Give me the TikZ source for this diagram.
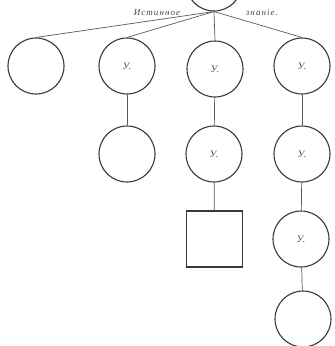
\documentclass[tikz,border=0pt]{standalone}
\usepackage{fontspec}
\setmainfont{Liberation Serif}
\begin{document}
\begin{tikzpicture}[x=1pt,y=-1pt,
  circ/.style={circle,draw=black!78,line width=1.1pt,minimum size=56pt,inner sep=0pt,font=\itshape\normalsize,text=black!70},
  sq/.style={rectangle,draw=black!78,line width=1.1pt,minimum size=56pt,inner sep=0pt},
  conn/.style={draw=black!65,line width=0.7pt},
  lab/.style={font=\itshape\small,text=black!72,inner sep=0pt}]
\useasboundingbox (0,0) rectangle (335,346);
\clip (0,0) rectangle (335,346);
\node[circ] (top) at (214,-17) {};
\node[circ] (a1) at (36,66) {};
\node[circ] (a2) at (127,66) {У.};
\node[circ] (a3) at (215,69) {У.};
\node[circ] (a4) at (302,66) {У.};
\node[circ] (b2) at (127,154) {};
\node[circ] (b3) at (214,154) {У.};
\node[circ] (b4) at (302,154) {У.};
\node[sq] (c3) at (214.5,239) {};
\node[circ] (c4) at (301,239) {У.};
\node[circ] (d4) at (303,319) {};
\node[lab,anchor=base] (t1) at (157,15) {\addfontfeature{LetterSpace=12}Истинное};
\node[lab,anchor=base] (t2) at (262,15) {\addfontfeature{LetterSpace=12}знаніе.};
\draw[conn] (top.south) -- (a1.north);
\draw[conn] (top.south) -- (a2.north);
\draw[conn] (top.south) -- (a3.north);
\draw[conn] (top.south) -- (a4.north);
\draw[conn] (a2) -- (b2);
\draw[conn] (a3) -- (b3);
\draw[conn] (b3) -- (c3);
\draw[conn] (a4) -- (b4);
\draw[conn] (b4) -- (c4);
\draw[conn] (c4) -- (d4);
\end{tikzpicture}
\end{document}
